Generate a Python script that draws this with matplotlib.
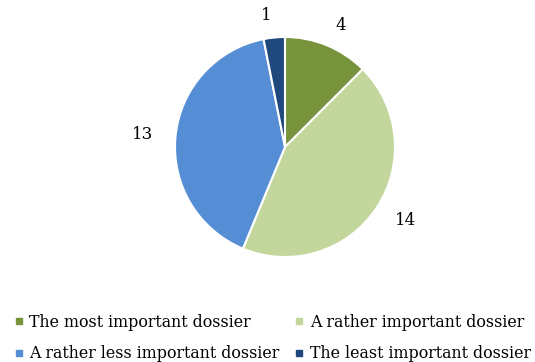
import matplotlib
matplotlib.use("Agg")
import matplotlib.pyplot as plt
from matplotlib.lines import Line2D

categories = [
    "The most important dossier",
    "A rather important dossier",
    "A rather less important dossier",
    "The least important dossier",
]
values = [4, 14, 13, 1]
colors = ["#77933C", "#C3D69B", "#558ED5", "#1F497D"]

plt.rcParams["font.family"] = ["DejaVu Serif"]

fig = plt.figure(figsize=(5.35, 3.62), dpi=100)
ax = fig.add_axes([175 / 535, 105 / 362, 220 / 535, 220 / 362])

wedges, texts = ax.pie(
    values,
    colors=colors,
    startangle=90,
    counterclock=False,
    labels=[str(v) for v in values],
    labeldistance=1.2,
    radius=1.0,
    wedgeprops=dict(edgecolor="white", linewidth=1.5),
    textprops=dict(fontsize=12, color="black"),
)
ax.set_xlim(-1, 1)
ax.set_ylim(-1, 1)
ax.set_aspect("equal")

handles = [
    Line2D([], [], marker="s", linestyle="none", markersize=5,
           markerfacecolor=c, markeredgecolor=c)
    for c in colors
]
# legend fills column by column; reorder so entries read across rows
order = [0, 2, 1, 3]
fig.legend(
    [handles[i] for i in order], [categories[i] for i in order],
    loc="lower center", bbox_to_anchor=(0.51, -0.04), ncol=2,
    frameon=False, fontsize=11.4, handlelength=0.5, handletextpad=0.4,
    columnspacing=1.0, labelspacing=0.9,
)

fig.savefig("out.png", dpi=100, facecolor="white")
